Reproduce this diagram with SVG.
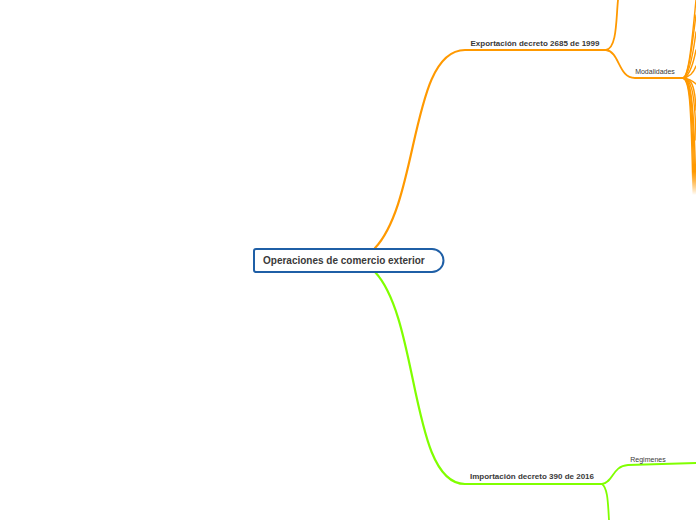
<svg xmlns="http://www.w3.org/2000/svg" width="696" height="520" viewBox="0 0 696 520">
<style>
.o{fill:none;stroke:#ff9900;stroke-linecap:round}
.g{fill:none;stroke:#80ff00;stroke-linecap:round}
.t{font-family:"Liberation Sans",Arial,sans-serif;fill:#3a3a3a}
.b{font-weight:bold;font-size:8px}
.n{font-size:7px}
</style>
<defs>
<linearGradient id="fade" x1="0" y1="78" x2="0" y2="195" gradientUnits="userSpaceOnUse">
<stop offset="0.8" stop-color="#ff9900"/><stop offset="1" stop-color="#ff9900" stop-opacity="0"/>
</linearGradient>
</defs>
<rect width="696" height="520" fill="#fff"/>
<g id="connectors">
<path class="o" stroke-width="2.2" d="M375,248 C420,200 410,50 465,50 L606,50"/>
<path class="o" stroke-width="1.8" d="M606,50 C617,48 616,20 618,0"/>
<path class="o" stroke-width="1.8" d="M606,50 C620,52 618,78 635,78 L683,78"/>
<g stroke-width="1.4">
<path class="o" d="M683,78 C689,76 692,40 696,0"/>
<path class="o" d="M683,78 C689,76 692,45 696,15"/>
<path class="o" d="M683,78 C689,76 693,55 696,32"/>
<path class="o" d="M683,78 C689,77 693,65 696,50"/>
<path class="o" d="M683,78 C690,77 694,72 696,66"/>
<path class="o" d="M683,78 C690,79 694,82 696,84"/>
<path class="o" style="stroke:url(#fade)" d="M683,78 C689,80 691,95 693,195"/>
<path class="o" style="stroke:url(#fade)" d="M683,78 C689,80 692,92 694,195"/>
<path class="o" style="stroke:url(#fade)" d="M683,78 C690,80 693,90 695,195"/>
<path class="o" style="stroke:url(#fade)" d="M683,78 C690,80 694,88 696,195"/>
<path class="o" d="M683,78 C690,79 695,86 696,140"/>
<path class="o" d="M683,78 C691,79 695,84 696,110"/>
</g>
<path class="g" stroke-width="2.2" d="M375,272 C420,320 410,484 465,484 L602,484"/>
<path class="g" stroke-width="1.8" d="M602,484 C614,482 612,466 628,465 L696,463"/>
<path class="g" stroke-width="1.8" d="M602,484 C608,488 608,505 609,520"/>
</g>
<g id="root">
<path d="M256,249 H432 A11.5,11.5 0 0 1 432,272 H256 A2,2 0 0 1 254,270 V251 A2,2 0 0 1 256,249 Z" fill="#fff" stroke="#1f5fa6" stroke-width="2"/>
<text class="t" x="263" y="264" font-size="10" font-weight="bold">Operaciones de comercio exterior</text>
</g>
<g id="exportacion"><text class="t b" x="535" y="46" text-anchor="middle">Exportación decreto 2685 de 1999</text></g>
<g id="modalidades"><text class="t n" x="655" y="74" text-anchor="middle">Modalidades</text></g>
<g id="importacion"><text class="t b" x="532" y="479" text-anchor="middle">Importación decreto 390 de 2016</text></g>
<g id="regimenes"><text class="t n" x="648" y="462" text-anchor="middle">Regimenes</text></g>
</svg>
